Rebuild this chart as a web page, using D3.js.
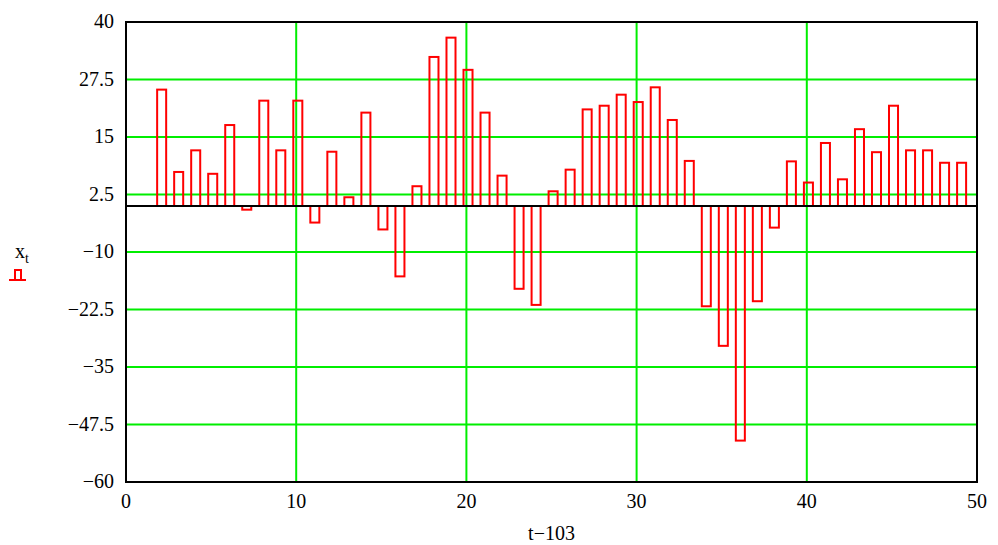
<!DOCTYPE html>
<html>
<head>
    <meta charset="utf-8">
    <script src="https://d3js.org/d3.v7.min.js"></script>
    <style>
        body { margin: 0; background: #fff; }
    </style>
</head>
<body>
    <div id="chart"></div>

    <script>
        // t values (0..49) and the x_t bar heights
        var tValues = d3.range(0, 50);
        var xValues = [0, 0, 25.3, 7.4, 12.1, 7.0, 17.6, -0.8, 22.9, 12.1,
                       22.9, -3.6, 11.8, 1.9, 20.3, -5.1, -15.3, 4.3, 32.4, 36.6,
                       29.6, 20.3, 6.6, -18.0, -21.5, 3.2, 7.9, 21.0, 21.8, 24.2,
                       22.6, 25.8, 18.7, 9.8, -21.8, -30.4, -51.0, -20.7, -4.7, 9.7,
                       5.1, 13.7, 5.8, 16.7, 11.7, 21.8, 12.1, 12.1, 9.4, 9.4];
        var xTicks = [0, 10, 20, 30, 40, 50];
        var yTicks = [40, 27.5, 15, 2.5, -10, -22.5, -35, -47.5, -60];

        var data = tValues.map(function(t, i) { return { t: t, v: xValues[i] }; });

        var font = "'Liberation Serif', 'DejaVu Serif', serif";
        var margin = { top: 22, right: 21, bottom: 63, left: 126 };
        var width = 998 - margin.left - margin.right;
        var height = 545 - margin.top - margin.bottom;

        var svg = d3.select("#chart")
            .append("svg")
            .attr("width", 998)
            .attr("height", 545)
            .attr("font-family", font)
            .append("g")
            .attr("transform", "translate(" + margin.left + "," + margin.top + ")");

        var x = d3.scaleLinear().domain([0, 50]).range([0, width]);
        var y = d3.scaleLinear().domain([-60, 40]).range([height, 0]);

        // green grid
        svg.append("g")
            .selectAll("line")
            .data(xTicks)
            .enter().append("line")
            .attr("x1", function(d) { return x(d); })
            .attr("x2", function(d) { return x(d); })
            .attr("y1", 0)
            .attr("y2", height)
            .attr("stroke", "#00ee00")
            .attr("stroke-width", 2);

        svg.append("g")
            .selectAll("line")
            .data(yTicks)
            .enter().append("line")
            .attr("x1", 0)
            .attr("x2", width)
            .attr("y1", function(d) { return y(d); })
            .attr("y2", function(d) { return y(d); })
            .attr("stroke", "#00ee00")
            .attr("stroke-width", 2);

        // bars
        svg.selectAll(".bar")
            .data(data)
            .enter().append("rect")
            .attr("class", "bar")
            .attr("x", function(d) { return x(d.t - 0.17); })
            .attr("width", x(0.53) - x(0))
            .attr("y", function(d) { return y(Math.max(0, d.v)); })
            .attr("height", function(d) { return Math.abs(y(d.v) - y(0)); })
            .attr("fill", "none")
            .attr("stroke", "#ff0000")
            .attr("stroke-width", 2);

        // zero line
        svg.append("line")
            .attr("x1", 0)
            .attr("x2", width)
            .attr("y1", y(0))
            .attr("y2", y(0))
            .attr("stroke", "#000")
            .attr("stroke-width", 2);

        // frame
        svg.append("rect")
            .attr("x", 0)
            .attr("y", 0)
            .attr("width", width)
            .attr("height", height)
            .attr("fill", "none")
            .attr("stroke", "#000")
            .attr("stroke-width", 2);

        // tick labels
        svg.append("g")
            .selectAll("text")
            .data(yTicks)
            .enter().append("text")
            .attr("x", -12)
            .attr("y", function(d) { return y(d) + 6; })
            .attr("text-anchor", "end")
            .attr("font-size", 20)
            .text(function(d) { return String(d).replace("-", "\u2212"); });

        svg.append("g")
            .selectAll("text")
            .data(xTicks)
            .enter().append("text")
            .attr("x", function(d) { return x(d); })
            .attr("y", height + 26)
            .attr("text-anchor", "middle")
            .attr("font-size", 20)
            .text(function(d) { return d; });

        // axis titles
        svg.append("text")
            .attr("x", x(25))
            .attr("y", height + 58)
            .attr("text-anchor", "middle")
            .attr("font-size", 20)
            .text("t\u2212103");

        var yl = svg.append("text")
            .attr("x", -111)
            .attr("y", 236)
            .attr("font-size", 20);
        yl.append("tspan").text("x");
        yl.append("tspan").attr("font-size", 14).attr("dy", 5).text("t");

        // legend glyph under the y title
        var lg = svg.append("g").attr("transform", "translate(-117," + (280 - margin.top) + ")");
        lg.append("path")
            .attr("d", "M0,0 H17 M6,0 V-10 H12 V0")
            .attr("fill", "none")
            .attr("stroke", "#ff0000")
            .attr("stroke-width", 2);
    </script>
</body>
</html>
